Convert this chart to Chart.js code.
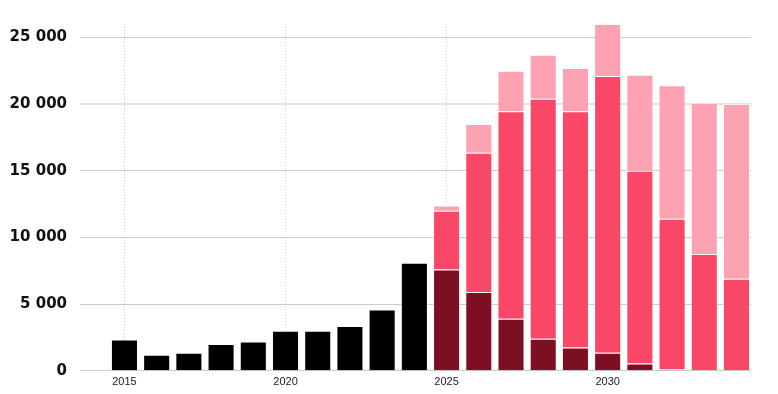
<!DOCTYPE html>
<html>
<head>
<meta charset="utf-8">
<script src="https://cdn.jsdelivr.net/npm/chart.js@4/dist/chart.umd.min.js"></script>
<style>
  html, body { margin: 0; padding: 0; background: #fff; }
  #wrap { width: 778px; height: 394px; position: relative; }
</style>
</head>
<body>
<div id="wrap"><canvas id="chart"></canvas></div>
<script>
// Data
const histYears = [2015, 2016, 2017, 2018, 2019, 2020, 2021, 2022, 2023, 2024];
const histValues = [2350, 1200, 1350, 2000, 2200, 3000, 3000, 3350, 4600, 8100];

const fcYears = [2025, 2026, 2027, 2028, 2029, 2030, 2031, 2032, 2033, 2034];
const fcDark = [7600, 5900, 3900, 2400, 1750, 1350, 550, 100, 0, 0];
const fcMid = [4400, 10450, 15550, 18000, 17700, 20750, 14450, 11300, 8750, 6900];
const fcLight = [400, 2150, 3050, 3300, 3250, 3900, 7200, 10000, 11350, 13100];

const xTickYears = [2015, 2020, 2025, 2030];
const yTickValues = [0, 5000, 10000, 15000, 20000, 25000];

Chart.defaults.font.family = "'Liberation Sans', Arial, sans-serif";

function points(years, vals) {
    return years.map((yr, i) => ({ x: yr, y: vals[i] }));
}

function fmtThousands(v) {
    return String(v).replace(/\B(?=(\d{3})+(?!\d))/g, ' ');
}

const barStyle = {
    barPercentage: 0.84,
    categoryPercentage: 1,
    borderWidth: 1,
    borderColor: 'rgba(255,255,255,0.55)',
    borderSkipped: 'bottom'
};

const ctx = document.getElementById('chart').getContext('2d');
new Chart(ctx, {
    type: 'bar',
    data: {
        datasets: [
            { label: 'Historical', data: points(histYears, histValues), backgroundColor: '#000000', ...barStyle },
            { label: 'Forecast A', data: points(fcYears, fcDark), backgroundColor: '#7d0f22', ...barStyle },
            { label: 'Forecast B', data: points(fcYears, fcMid), backgroundColor: '#f94867', ...barStyle },
            { label: 'Forecast C', data: points(fcYears, fcLight), backgroundColor: '#fda2b1', ...barStyle }
        ]
    },
    options: {
        responsive: true, maintainAspectRatio: false,
        animation: false,
        layout: { padding: { top: 24, right: 27, bottom: 0, left: 0 } },
        plugins: { legend: { display: false }, tooltip: { enabled: false } },
        scales: {
            x: {
                type: 'linear',
                stacked: true,
                offset: false,
                min: 2013.62,
                max: 2034.45,
                afterBuildTicks: (scale) => { scale.ticks = xTickYears.map(v => ({ value: v })); },
                ticks: {
                    callback: (v) => String(v),
                    color: '#222',
                    font: { size: 11 },
                    padding: 5,
                    maxRotation: 0,
                    autoSkip: false
                },
                grid: { color: '#c2d3ea', drawTicks: false, lineWidth: 1, offset: false },
                border: { display: false, dash: [1, 2] }
            },
            y: {
                stacked: true,
                min: 0,
                max: 26000,
                afterBuildTicks: (scale) => { scale.ticks = yTickValues.map(v => ({ value: v })); },
                ticks: {
                    callback: (v) => fmtThousands(v),
                    color: '#111',
                    font: { size: 15, weight: 'bold', family: "'DejaVu Sans', sans-serif" },
                    padding: 13
                },
                afterFit: (scale) => { scale.width = 80; },
                grid: {
                    drawTicks: false,
                    color: (c) => c.tick && c.tick.value === 20000 ? '#e3e3e3' : '#cccccc',
                    lineWidth: (c) => c.tick && c.tick.value === 20000 ? 2 : 1
                },
                border: { display: false }
            }
        }
    }
});
</script>
</body>
</html>
